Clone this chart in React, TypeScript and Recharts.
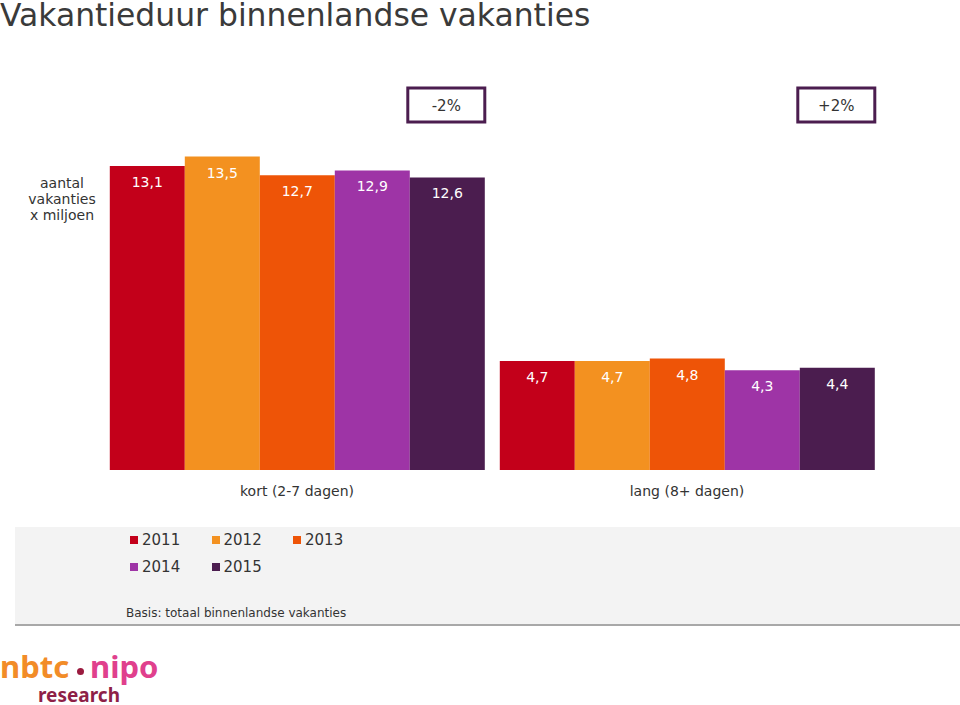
import React from "react";
import { BarChart, Bar, XAxis, YAxis, LabelList, Legend } from "recharts";

const categories = ["kort (2-7 dagen)", "lang (8+ dagen)"];
const years = ["2011", "2012", "2013", "2014", "2015"];
const v2011 = [13.1, 4.7];
const v2012 = [13.5, 4.7];
const v2013 = [12.7, 4.8];
const v2014 = [12.9, 4.3];
const v2015 = [12.6, 4.4];
const changes = ["-2%", "+2%"];
const colors = ["#C3001A", "#F39120", "#EE5407", "#9E34A6", "#4B1D4F"];

const seriesValues = [v2011, v2012, v2013, v2014, v2015];
const data = categories.map((c, i) => {
  const row: Record<string, any> = { name: c, change: changes[i] };
  years.forEach((y, k) => (row[y] = seriesValues[k][i]));
  return row;
});

const FONT = "'DejaVu Sans', Verdana, sans-serif";
const LOGO = "'Noto Sans', sans-serif";

const fmt = (v: any) => String(v).replace(".", ",");

const ChangeBox = (props: any) => {
  const { x, width, index } = props;
  const bx = x - 2;
  const bw = width + 2;
  return (
    <g>
      <rect x={bx} y={88} width={bw} height={34} fill="#fff" stroke="#4B1D4F" strokeWidth={3} />
      <text x={bx + bw / 2} y={106} textAnchor="middle" dominantBaseline="middle" fontSize={15} fill="#333" fontFamily={FONT}>
        {changes[index]}
      </text>
    </g>
  );
};

const LegendContent = () => {
  const rows = [years.slice(0, 3), years.slice(3)];
  return (
    <div style={{ position: "relative", height: 60 }}>
      {rows.map((row, r) =>
        row.map((y, c) => {
          const idx = years.indexOf(y);
          return (
            <div
              key={y}
              style={{
                position: "absolute",
                left: 130 + c * 81.5,
                top: r * 27,
                display: "flex",
                alignItems: "center",
                fontFamily: FONT,
                fontSize: 15,
                color: "#333",
                lineHeight: "18px",
              }}
            >
              <span style={{ display: "inline-block", width: 8, height: 8, background: colors[idx], marginRight: 4 }} />
              {y}
            </div>
          );
        })
      )}
    </div>
  );
};

export default function App() {
  return (
    <div style={{ position: "absolute", left: 0, top: 0, width: 960, height: 705, background: "#fff", overflow: "hidden", fontFamily: FONT }}>
      <div style={{ position: "absolute", left: 0, top: 0, fontSize: 31.4, lineHeight: "30px", color: "#3a3a3a", whiteSpace: "nowrap" }}>
        Vakantieduur binnenlandse vakanties
      </div>
      <div style={{ position: "absolute", left: 15, top: 527, width: 945, height: 97, background: "#F3F3F3", borderBottom: "2px solid #A8A8A8" }} />
      <div style={{ position: "absolute", left: 12, width: 100, top: 175, fontSize: 14, lineHeight: "16px", color: "#333", textAlign: "center" }}>
        aantal<br />vakanties<br />x miljoen
      </div>
      <div style={{ position: "absolute", left: 126, top: 606, fontSize: 12, lineHeight: "15px", color: "#333" }}>
        Basis: totaal binnenlandse vakanties
      </div>
      <div style={{ position: "absolute", left: 0, top: 650, fontFamily: LOGO, fontWeight: 700, fontSize: 31, lineHeight: "32px", whiteSpace: "nowrap", color: "#F28C28" }}>
        nbtc
      </div>
      <div style={{ position: "absolute", left: 77, top: 668, width: 7, height: 7, borderRadius: 4, background: "#9B1B3F" }} />
      <div style={{ position: "absolute", left: 90, top: 650, fontFamily: LOGO, fontWeight: 700, fontSize: 31, lineHeight: "32px", whiteSpace: "nowrap", color: "#E0408D" }}>
        nipo
      </div>
      <div style={{ position: "absolute", left: 38, top: 686, fontFamily: LOGO, fontWeight: 700, fontSize: 19, lineHeight: "18px", color: "#8E1F47", whiteSpace: "nowrap" }}>
        research
      </div>
      <div style={{ position: "absolute", left: 0, top: 0 }}>
        <BarChart
          width={960}
          height={705}
          data={data}
          margin={{ top: 145, right: 78, left: 102, bottom: 145 }}
          barCategoryGap="2%"
          barGap={0}
        >
          <XAxis
            dataKey="name"
            height={30}
            axisLine={false}
            tickLine={false}
            tickMargin={10}
            tick={{ fill: "#333", fontSize: 14, fontFamily: FONT }}
          />
          <YAxis hide domain={[0, 14]} />
          <Legend
            content={<LegendContent />}
            wrapperStyle={{ position: "absolute", left: 0, top: 531, width: 960, height: 60 }}
          />
          {years.map((y, k) => (
            <Bar key={y} dataKey={y} fill={colors[k]} isAnimationActive={false}>
              <LabelList dataKey={y} position="insideTop" offset={11} formatter={fmt} fill="#fff" fontSize={14} fontFamily={FONT} />
              {k === 4 ? <LabelList dataKey="change" content={<ChangeBox />} /> : null}
            </Bar>
          ))}
        </BarChart>
      </div>
    </div>
  );
}
